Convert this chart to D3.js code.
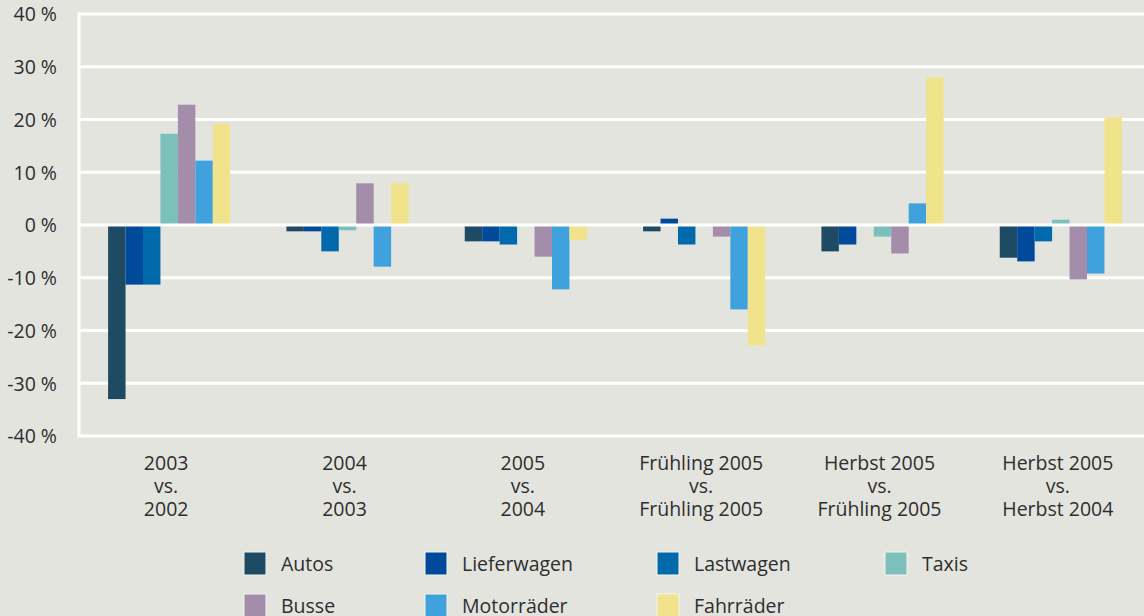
<!DOCTYPE html>
<html>
  <head>
    <meta charset="utf-8">
    <script src="https://d3js.org/d3.v7.min.js"></script>
    <style>
      body { margin: 0; background: #e4e4df; }
      svg { display: block; }
      text { font-family: "Open Sans", sans-serif; fill: #2e2e2e; }
      .tick text { font-size: 19.5px; }
      .legend text { font-size: 19.5px; }
    </style>
  </head>
  <body>
    <svg width="1144" height="616"></svg>
    <script>
      const groups = [
        ["2003", "vs.", "2002"],
        ["2004", "vs.", "2003"],
        ["2005", "vs.", "2004"],
        ["Frühling 2005", "vs.", "Frühling 2005"],
        ["Herbst 2005", "vs.", "Frühling 2005"],
        ["Herbst 2005", "vs.", "Herbst 2004"]
      ];
      const series = ["Autos", "Lieferwagen", "Lastwagen", "Taxis", "Busse", "Motorräder", "Fahrräder"];
      const colors = ["#1e4a63", "#004a9b", "#006aad", "#7cc0bc", "#a38dab", "#3fa2dc", "#f0e38c"];

      // one array per series, one value per group (percent)
      const autos       = [-33.0, -1.2, -3.1, -1.2, -5.0, -6.2];
      const lieferwagen = [-11.3, -1.2, -3.1,  1.2, -3.7, -6.9];
      const lastwagen   = [-11.3, -5.0, -3.7, -3.7,  0.0, -3.1];
      const taxis       = [ 17.3, -1.0,  0.0,  0.0, -2.2,  1.0];
      const busse       = [ 22.8,  7.9, -6.0, -2.2, -5.4, -10.3];
      const motorraeder = [ 12.2, -7.9, -12.2, -16.0, 4.1, -9.2];
      const fahrraeder  = [ 19.2,  7.9, -2.9, -22.8, 28.0, 20.4];
      const values = [autos, lieferwagen, lastwagen, taxis, busse, motorraeder, fahrraeder];

      const yTicks = [-40, -30, -20, -10, 0, 10, 20, 30, 40];

      const svg = d3.select("svg");
      const plotLeft = 79, plotRight = 1150, plotTop = 14, plotBottom = 436;

      const x0 = d3.scaleBand().domain(d3.range(groups.length)).range([plotLeft + 1, plotRight]).padding(0);
      const bw = x0.bandwidth();
      const inner = 0.685 * bw;
      const x1 = d3.scaleBand().domain(series).range([(bw - inner) / 2, (bw + inner) / 2]).padding(0);
      const y = d3.scaleLinear().domain([-40, 40]).range([plotBottom, plotTop]);

      // grid
      const grid = svg.append("g");
      grid.selectAll("line").data(yTicks.filter(d => d !== 0)).join("line")
          .attr("x1", plotLeft).attr("x2", 1144)
          .attr("y1", d => y(d)).attr("y2", d => y(d))
          .attr("stroke", "#fff").attr("stroke-width", 3);
      svg.append("line")
          .attr("x1", plotLeft).attr("x2", plotLeft).attr("y1", y(40) - 1.5).attr("y2", y(-40) + 1.5)
          .attr("stroke", "#fff").attr("stroke-width", 3);

      // bars
      const cells = [];
      series.forEach((s, si) => values[si].forEach((v, gi) => cells.push({s, si, gi, v})));
      svg.append("g").selectAll("rect").data(cells.filter(d => d.v !== 0)).join("rect")
          .attr("x", d => x0(d.gi) + x1(d.s))
          .attr("width", x1.bandwidth())
          .attr("y", d => y(Math.max(0, d.v)))
          .attr("height", d => Math.abs(y(d.v) - y(0)))
          .attr("fill", d => colors[d.si]);

      // zero line on top
      svg.append("line")
          .attr("x1", plotLeft).attr("x2", 1144).attr("y1", y(0)).attr("y2", y(0))
          .attr("stroke", "#fff").attr("stroke-width", 3);

      // y axis labels
      const yAxis = d3.axisLeft(y).tickValues(yTicks).tickSize(0).tickPadding(0)
          .tickFormat(d => d + " %");
      const yG = svg.append("g").attr("transform", `translate(${plotLeft - 22},0)`).call(yAxis);
      yG.select(".domain").remove();
      yG.selectAll("text").attr("dy", "0.35em");

      // x labels
      const xl = svg.append("g").attr("class", "tick");
      groups.forEach((lines, gi) => {
        const cx = x0(gi) + bw / 2 - 3;
        const t = xl.append("text")
            .attr("text-anchor", "middle")
            .attr("x", cx)
            .attr("y", 470);
        lines.forEach((ln, li) => {
          t.append("tspan").attr("x", cx).attr("dy", li === 0 ? 0 : 23).text(ln);
        });
      });

      // legend
      const colX = [244, 425, 657, 885];
      const rowY = [552, 594];
      const lg = svg.append("g").attr("class", "legend");
      series.forEach((s, i) => {
        const cx = colX[i % 4], cy = rowY[Math.floor(i / 4)];
        lg.append("rect").attr("x", cx).attr("y", cy).attr("width", 22).attr("height", 23)
          .attr("fill", colors[i]).attr("stroke", "#f4f4f0").attr("stroke-width", 1);
        lg.append("text").attr("x", cx + 37).attr("y", cy + 12).attr("dy", "0.35em").text(s);
      });
    </script>
  </body>
</html>
